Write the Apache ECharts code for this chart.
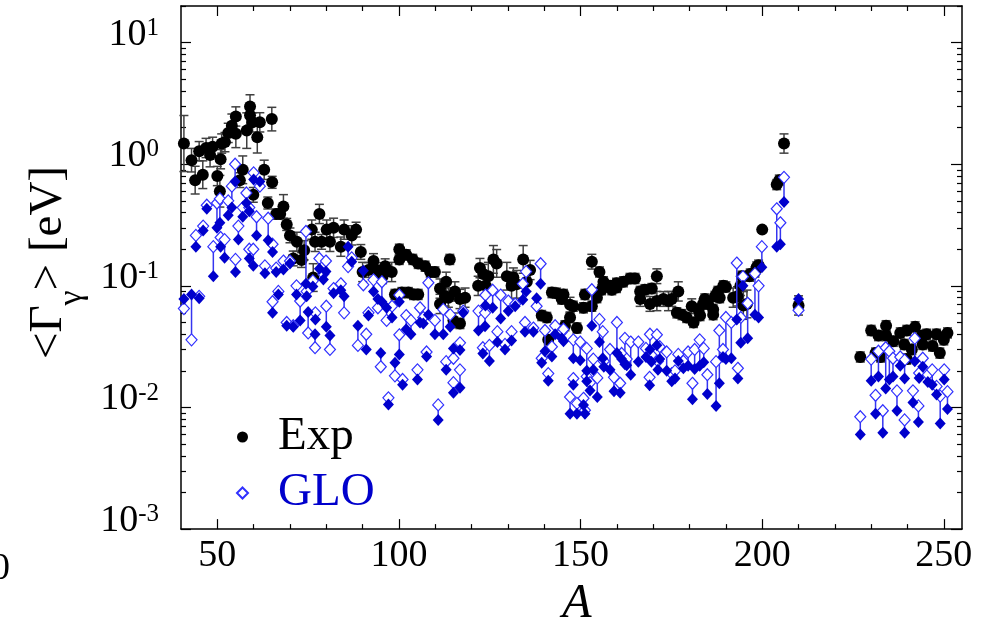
<!DOCTYPE html>
<html><head><meta charset="utf-8">
<script src="https://cdn.jsdelivr.net/npm/echarts@6/dist/echarts.min.js"></script>
<style>html,body{margin:0;padding:0;background:#fff}#c{width:989px;height:633px}</style>
</head><body><div id="c"></div>
<script>
// ---------- data ----------
const expA = [
 40.8,42.9,43.9,45.0,46.0,46.9,48.0,48.7,50.0,50.7,
 50.9,51.2,52.1,53.0,54.0,55.1,55.1,56.2,57.0,58.1,
 59.0,59.0,59.7,59.9,61.0,61.7,62.9,63.9,65.0,65.1,
 66.2,67.3,68.2,69.1,70.0,70.9,71.9,73.2,73.9,76.0,
 76.4,76.9,78.1,78.7,80.1,81.0,82.0,84.0,84.9,87.0,
 88.2,89.5,90.0,91.6,93.0,93.9,95.5,96.2,98.0,98.9,
 100.1,100.1,100.8,102.0,102.6,103.8,104.0,105.3,105.3,107.2,
 108.6,109.9,111.3,111.3,112.7,113.0,113.6,114.0,115.0,115.4,
 116.8,116.8,118.2,121.8,122.3,123.2,123.9,124.6,126.0,126.9,
 129.7,131.0,131.5,132.4,134.2,135.2,136.1,139.3,140.7,141.1,
 142.1,143.4,144.8,145.3,145.7,147.1,147.1,148.0,149.0,150.8,
 151.2,153.1,153.1,154.5,155.2,155.8,156.3,158.1,158.6,159.9,
 159.9,161.8,163.6,165.0,166.4,166.4,167.7,169.1,169.6,171.0,
 171.0,172.8,174.2,175.1,176.5,176.9,177.9,179.2,180.6,181.1,
 182.4,182.9,183.7,184.2,185.1,186.5,186.5,187.0,187.8,188.3,
 189.3,190.0,192.0,193.2,194.0,194.4,194.8,195.8,196.5,196.7,
 198.0,198.5,199.0,200.0,204.0,204.7,206.0,210.0,227.0,230.0,
 231.2,232.0,232.6,234.1,234.1,236.1,238.0,239.1,239.8,239.8,
 241.2,242.1,244.0,244.2,245.3,246.9,248.0,248.9,250.0,251.0
];
const expVal = [
 1.48,1.08,0.74,1.28,0.82,1.36,1.19,1.39,0.80,0.60,
 1.10,1.48,1.52,1.81,2.07,2.47,1.78,0.74,0.90,1.89,
 2.98,2.53,2.21,0.56,1.67,2.21,0.90,0.48,2.35,0.71,
 0.39,0.39,0.45,0.32,0.26,0.168,0.23,0.163,0.196,0.29,
 0.117,0.23,0.39,0.23,0.29,0.23,0.30,0.21,0.29,0.26,
 0.29,0.19,0.13,0.135,0.16,0.135,0.12,0.145,0.13,0.085,
 0.2,0.165,0.088,0.18,0.088,0.165,0.085,0.153,0.085,0.145,
 0.13,0.13,0.095,0.071,0.082,0.108,0.08,0.165,0.052,0.09,
 0.078,0.049,0.08,0.1,0.14,0.125,0.1,0.12,0.165,0.153,
 0.12,0.1,0.117,0.103,0.165,0.108,0.135,0.057,0.055,0.036,
 0.088,0.087,0.078,0.085,0.047,0.07,0.055,0.068,0.045,0.066,
 0.085,0.158,0.068,0.08,0.13,0.093,0.108,0.1,0.093,0.105,
 0.097,0.108,0.115,0.115,0.09,0.078,0.093,0.071,0.095,0.12,
 0.075,0.078,0.075,0.078,0.060,0.09,0.058,0.055,0.068,0.050,
 0.064,0.057,0.071,0.078,0.071,0.064,0.058,0.082,0.09,0.08,
 0.1,0.098,0.08,0.082,0.1,0.12,0.069,0.071,0.12,0.125,
 0.13,0.143,0.148,0.29,0.68,0.74,1.48,0.069,0.026,0.043,
 0.028,0.039,0.026,0.047,0.039,0.035,0.041,0.033,0.043,0.025,
 0.030,0.046,0.039,0.033,0.040,0.032,0.040,0.028,0.036,0.041
];
// multiplicative half-length of each error bar (bar runs from v/f to v*f)
const expErr = [
 1.7,1.25,1.3,1.2,1.3,1.2,1.25,1.2,1.2,1.35,
 1.2,1.2,1.2,1.2,1.25,1.2,1.3,1.15,1.3,1.4,
 1.25,1.2,1.2,1.15,1.35,1.2,1.2,1.12,1.25,1.12,
 1.1,1.1,1.25,1.12,1.15,1.15,1.2,1.15,1.2,1.2,
 1.3,1.2,1.2,1.15,1.2,1.2,1.2,1.2,1.2,1.2,
 1.15,1.15,1.2,1.15,1.15,1.15,1.15,1.15,1.2,1.1,
 1.1,1.1,1.1,1.1,1.1,1.1,1.1,1.1,1.1,1.1,
 1.1,1.1,1.2,1.2,1.2,1.2,1.2,1.1,1.15,1.2,
 1.2,1.1,1.2,1.2,1.2,1.2,1.2,1.3,1.3,1.3,
 1.3,1.3,1.2,1.3,1.3,1.2,1.2,1.1,1.1,1.1,
 1.1,1.1,1.1,1.1,1.1,1.15,1.1,1.1,1.1,1.1,
 1.1,1.15,1.1,1.1,1.1,1.1,1.1,1.1,1.1,1.1,
 1.1,1.1,1.1,1.1,1.1,1.15,1.1,1.15,1.1,1.15,
 1.2,1.15,1.2,1.15,1.1,1.2,1.1,1.1,1.15,1.1,
 1.1,1.1,1.1,1.1,1.1,1.1,1.1,1.1,1.1,1.1,
 1.1,1.1,1.2,1.2,1.2,1.1,1.3,1.3,1.1,1.1,
 1.1,1.1,1.1,1.05,1.1,1.1,1.2,1.2,1.1,1.1,
 1.1,1.1,1.1,1.1,1.1,1.1,1.1,1.1,1.1,1.1,
 1.1,1.1,1.1,1.1,1.1,1.1,1.1,1.1,1.1,1.1
];
const gloA = [
 40.8,42.9,44.1,45.0,46.1,47.1,48.9,49.9,50.7,50.9,
 52.0,53.0,54.0,54.9,55.0,55.8,57.0,58.0,58.8,58.8,
 59.9,60.0,60.8,61.7,63.1,64.0,65.2,65.2,66.2,66.8,
 68.2,69.1,70.0,70.9,71.8,72.8,74.4,74.6,75.0,76.3,
 76.9,77.0,78.1,79.2,79.9,80.0,81.0,82.0,84.0,84.9,
 86.0,87.0,88.7,90.2,91.0,91.6,93.0,94.2,95.0,95.3,
 96.6,97.1,98.1,98.9,100.1,100.1,101.0,102.0,103.3,105.1,
 105.8,106.7,107.6,108.1,109.9,110.8,112.2,113.0,114.1,115.0,
 115.0,116.8,116.8,117.7,121.9,123.1,123.7,123.8,124.9,125.8,
 127.1,128.0,129.2,130.1,131.0,132.0,134.1,134.7,135.0,137.0,
 137.9,139.0,139.3,140.2,141.1,142.1,143.0,144.8,145.3,147.1,
 148.0,148.0,149.0,149.9,150.8,151.2,151.7,151.7,152.6,153.1,
 153.5,154.6,155.2,156.1,156.4,158.1,159.2,160.0,160.9,161.3,
 162.2,162.7,163.8,165.9,168.0,169.0,169.1,169.5,171.0,171.3,
 171.8,173.7,175.1,176.0,176.9,178.3,179.6,180.8,181.4,182.8,
 183.9,184.9,187.3,188.2,189.2,190.0,191.5,193.0,193.3,194.1,
 194.7,196.0,198.0,199.0,199.9,204.0,205.0,206.0,210.0,227.0,
 230.0,231.2,232.0,233.2,234.0,235.0,236.0,237.1,238.0,239.2,
 239.2,241.5,242.0,243.0,243.2,244.2,245.6,246.8,248.0,249.0,
 250.1,251.0
];
const gloOpen = [
 0.065,0.036,0.26,0.082,0.31,0.46,0.21,0.48,0.52,0.25,
 0.24,0.50,0.66,1.0,0.165,0.31,0.44,0.58,0.44,0.20,
 0.20,0.85,0.37,0.66,0.146,0.36,0.22,0.074,0.14,0.09,
 0.16,0.050,0.16,0.047,0.10,0.075,0.28,0.09,0.041,0.11,
 0.031,0.06,0.168,0.125,0.16,0.068,0.030,0.095,0.104,0.060,
 0.144,0.17,0.0324,0.102,0.040,0.06,0.112,0.066,0.0216,0.108,
 0.052,0.012,0.068,0.0182,0.084,0.0396,0.017,0.057,0.052,0.0204,
 0.066,0.055,0.0286,0.106,0.052,0.0105,0.064,0.0238,0.058,0.0254,
 0.016,0.0204,0.034,0.062,0.062,0.031,0.06,0.084,0.0324,0.092,
 0.042,0.084,0.033,0.075,0.042,0.071,0.104,0.05,0.131,0.045,
 0.068,0.152,0.0254,0.043,0.019,0.0316,0.047,0.0415,0.044,0.0122,
 0.036,0.0173,0.0108,0.0345,0.0119,0.0095,0.0306,0.018,0.016,0.093,
 0.025,0.0175,0.053,0.042,0.024,0.030,0.0177,0.05,0.0158,0.0278,
 0.037,0.025,0.0345,0.0345,0.0306,0.0177,0.04,0.027,0.0396,0.024,
 0.0316,0.0286,0.019,0.02,0.0273,0.024,0.0286,0.0158,0.030,0.036,
 0.0306,0.0186,0.0238,0.043,0.030,0.055,0.050,0.154,0.021,0.055,
 0.119,0.072,0.126,0.10,0.21,0.43,0.33,0.78,0.063,0.0084,
 0.025,0.0126,0.029,0.0094,0.031,0.029,0.0254,0.0137,0.026,0.0079,
 0.0245,0.0137,0.037,0.0103,0.0192,0.0254,0.0186,0.0204,0.0149,0.0124,
 0.0204,0.0135
];
const gloFilled = [
 0.078,0.085,0.21,0.079,0.285,0.43,0.12,0.30,0.33,0.21,
 0.17,0.38,0.44,0.72,0.13,0.24,0.37,0.48,0.41,0.168,
 0.146,0.75,0.26,0.72,0.127,0.237,0.19,0.060,0.13,0.085,
 0.136,0.047,0.153,0.046,0.085,0.052,0.104,0.082,0.061,0.099,
 0.040,0.053,0.138,0.113,0.131,0.046,0.039,0.087,0.092,0.082,
 0.21,0.158,0.047,0.133,0.030,0.057,0.09,0.078,0.028,0.074,
 0.066,0.0106,0.055,0.0233,0.074,0.0273,0.0154,0.044,0.040,0.017,
 0.050,0.049,0.0262,0.058,0.040,0.0079,0.040,0.0204,0.046,0.0306,
 0.0132,0.0145,0.0297,0.060,0.043,0.0278,0.0465,0.069,0.0241,0.066,
 0.0345,0.054,0.030,0.062,0.0356,0.068,0.077,0.042,0.09,0.042,
 0.079,0.104,0.0233,0.029,0.0166,0.0262,0.040,0.037,0.035,0.0089,
 0.0254,0.0154,0.0089,0.0245,0.0105,0.0089,0.02,0.0164,0.0138,0.047,
 0.0204,0.0122,0.0345,0.0254,0.0216,0.0204,0.0136,0.028,0.0132,0.025,
 0.0227,0.0222,0.0186,0.0238,0.026,0.0152,0.030,0.0238,0.0325,0.0204,
 0.025,0.02,0.0164,0.0173,0.0241,0.021,0.022,0.0117,0.0207,0.022,
 0.0235,0.0129,0.0103,0.0158,0.026,0.025,0.0254,0.053,0.0173,0.034,
 0.1,0.037,0.058,0.055,0.142,0.21,0.22,0.49,0.078,0.006,
 0.0166,0.0089,0.018,0.0062,0.0143,0.017,0.018,0.0094,0.022,0.0062,
 0.0173,0.011,0.024,0.0076,0.0175,0.0216,0.0162,0.0154,0.0128,0.0074,
 0.017,0.0097
];
const xMajorTicks = [50, 100, 150, 200, 250];
const xMinorTicks = [60,70,80,90,110,120,130,140,160,170,180,190,210,220,230,240];
const yMajorTicks = [0.001, 0.01, 0.1, 1, 10];
const yTickLabels = ['10{s|-3}', '10{s|-2}', '10{s|-1}', '10{s|0}', '10{s|1}'];
const yMinorTicks = [];
[0.001, 0.01, 0.1, 1, 10].forEach(d => { for (let k = 2; k <= 9; k++) yMinorTicks.push(+(k * d).toPrecision(3)); });

// ---------- chart ----------
const FONT = '"Liberation Serif","Times New Roman",Times,serif';
const BLUE = '#0000cc';
const OPEN_BLUE = '#3030ff';
const chart = echarts.init(document.getElementById('c'), null, {renderer: 'canvas'});
const axLine = {show: true, lineStyle: {color: '#000', width: 1.5}};
const tickStyle = {color: '#000', width: 1.2};
function xAx(pos, ticks, len, line, labels) {
  return {
    type: 'value', min: 40, max: 255, position: pos,
    axisLine: line ? axLine : {show: false},
    axisTick: {show: true, inside: true, length: len, customValues: ticks, lineStyle: tickStyle},
    axisLabel: labels ? {show: true, customValues: xMajorTicks, fontSize: 38, fontFamily: FONT, color: '#000', margin: 8} : {show: false},
    splitLine: {show: false}
  };
}
function yAx(pos, ticks, len, line, labels) {
  return {
    type: 'log', logBase: 10, min: 0.001, max: 20, position: pos,
    axisLine: line ? axLine : {show: false},
    axisTick: {show: true, inside: true, length: len, customValues: ticks, lineStyle: tickStyle},
    axisLabel: labels ? {
      show: true, customValues: yMajorTicks, margin: 22, color: '#000',
      fontSize: 38, fontFamily: FONT, padding: [0, 0, 16, 0],
      formatter: v => yTickLabels[yMajorTicks.findIndex(t => Math.abs(Math.log10(t) - Math.log10(v)) < 1e-6)],
      rich: {s: {fontSize: 25, fontFamily: FONT, color: '#000', verticalAlign: 'top', padding: [0, 0, 5, 0]}}
    } : {show: false},
    splitLine: {show: false}, minorSplitLine: {show: false}
  };
}
const xAxes = [xAx('bottom', xMajorTicks, 10, true, true), xAx('bottom', xMinorTicks, 5, false, false),
               xAx('top', xMajorTicks, 10, true, false), xAx('top', xMinorTicks, 5, false, false)];
xAxes[0].name = 'A';
xAxes[0].nameLocation = 'middle';
xAxes[0].nameGap = 50;
xAxes[0].nameTextStyle = {fontSize: 48, fontStyle: 'italic', fontFamily: FONT, color: '#000', padding: [0, 0, 0, 11]};
const yAxes = [yAx('left', yMajorTicks, 10, true, true), yAx('left', yMinorTicks, 5, false, false),
               yAx('right', yMajorTicks, 11, true, false), yAx('right', yMinorTicks, 5, false, false)];
yAxes[0].name = '{m|<Γ}{sub|γ}{m|> [eV]}';
yAxes[0].nameLocation = 'middle';
yAxes[0].nameRotate = 90;
yAxes[0].nameGap = 97;
yAxes[0].nameTextStyle = {
  fontSize: 47, fontFamily: FONT, color: '#000', padding: [0, 0, 0, 10],
  rich: {
    m: {fontSize: 47, fontFamily: FONT, color: '#000', lineHeight: 48, verticalAlign: 'top'},
    sub: {fontSize: 34, fontFamily: FONT, color: '#000', lineHeight: 34, verticalAlign: 'top', padding: [30, 0, 0, 0]}
  }
};

const expData = expA.map((a, i) => [a, expVal[i], expErr[i]]);
const pairData = gloA.map((a, i) => [a, gloOpen[i], gloFilled[i]]);

chart.setOption({
  animation: false,
  backgroundColor: '#fff',
  grid: {left: 181, top: 6, right: 27, bottom: 97, containLabel: false},
  xAxis: xAxes,
  yAxis: yAxes,
  legend: {
    orient: 'vertical', left: 236, top: 412, padding: 0,
    itemWidth: 11, itemHeight: 11, itemGap: 6, selectedMode: false,
    textStyle: {fontSize: 47, fontFamily: FONT, lineHeight: 50, padding: [0, 0, 0, 25]},
    data: [{name: 'Exp', textStyle: {color: '#000'}}, {name: 'GLO', textStyle: {color: BLUE}}]
  },
  graphic: [{
    type: 'text', x: 10, y: 569,
    style: {text: '0', font: '38px ' + FONT, fill: '#000', align: 'right', verticalAlign: 'middle'}
  }],
  series: [
    {
      name: 'Exp error', type: 'custom', xAxisIndex: 0, yAxisIndex: 0, z: 1,
      data: expData, encode: {x: 0, y: 1},
      renderItem: (params, api) => {
        const x = api.value(0), y = api.value(1), f = api.value(2);
        const t = api.coord([x, y * f]), b = api.coord([x, y / f]);
        const hw = 4.5, st = {stroke: '#404040', lineWidth: 1.5};
        return {type: 'group', children: [
          {type: 'line', shape: {x1: t[0], y1: t[1], x2: b[0], y2: b[1]}, style: st},
          {type: 'line', shape: {x1: t[0] - hw, y1: t[1], x2: t[0] + hw, y2: t[1]}, style: st},
          {type: 'line', shape: {x1: b[0] - hw, y1: b[1], x2: b[0] + hw, y2: b[1]}, style: st}
        ]};
      }
    },
    {
      name: 'Exp', type: 'scatter', xAxisIndex: 0, yAxisIndex: 0, z: 2,
      symbol: 'circle', symbolSize: 12,
      itemStyle: {color: '#000', opacity: 1},
      data: expA.map((a, i) => [a, expVal[i]])
    },
    {
      name: 'GLO link', type: 'custom', xAxisIndex: 0, yAxisIndex: 0, z: 3,
      data: pairData, encode: {x: 0, y: 1},
      renderItem: (params, api) => {
        const x = api.value(0);
        const p1 = api.coord([x, api.value(1)]), p2 = api.coord([x, api.value(2)]);
        return {type: 'line', shape: {x1: p1[0], y1: p1[1], x2: p2[0], y2: p2[1]},
                style: {stroke: '#3535f0', lineWidth: 1.5}};
      }
    },
    {
      name: 'GLO', type: 'scatter', xAxisIndex: 0, yAxisIndex: 0, z: 4,
      symbol: 'diamond', symbolSize: [11, 12],
      itemStyle: {color: '#fff', borderColor: OPEN_BLUE, borderWidth: 1.2, opacity: 1},
      data: gloA.map((a, i) => [a, gloOpen[i]])
    },
    {
      name: 'GLO filled', type: 'scatter', xAxisIndex: 0, yAxisIndex: 0, z: 5,
      symbol: 'diamond', symbolSize: [11, 12],
      itemStyle: {color: BLUE, opacity: 1},
      data: gloA.map((a, i) => [a, gloFilled[i]])
    }
  ]
});
</script>
</body></html>
